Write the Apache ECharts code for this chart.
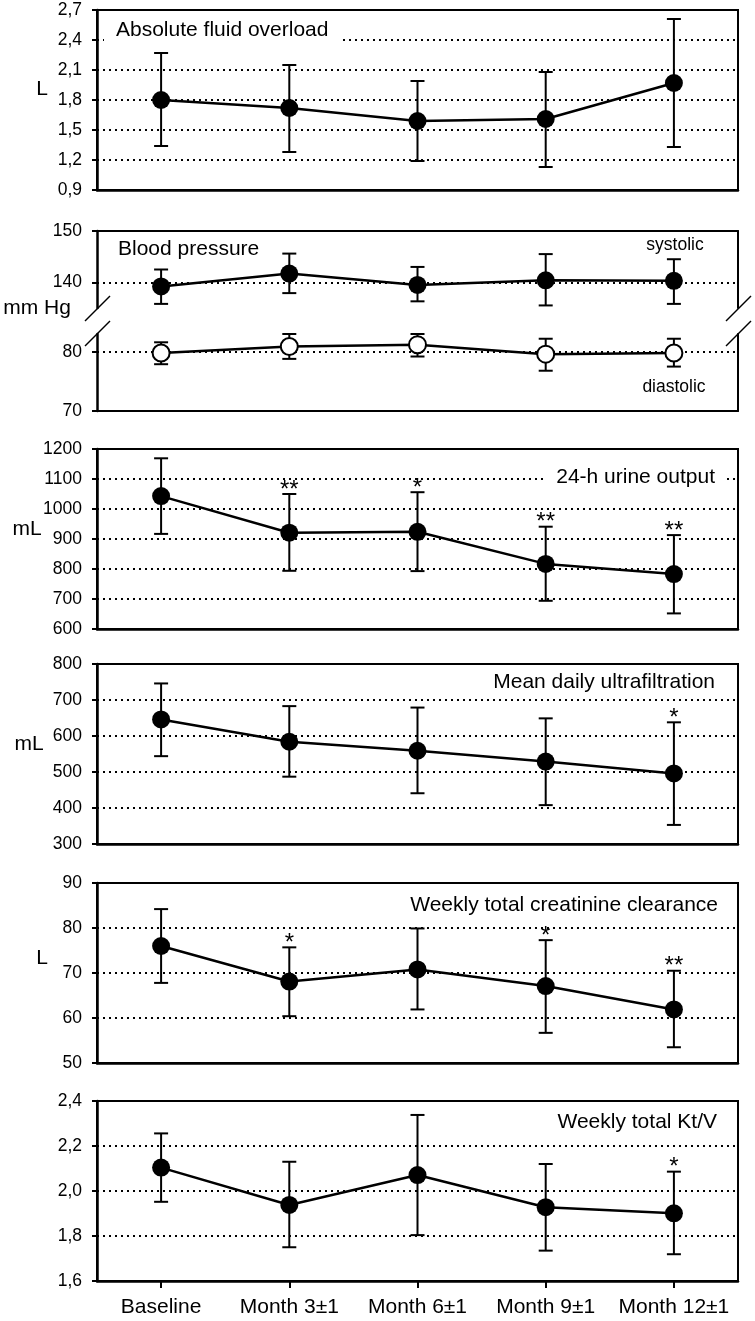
<!DOCTYPE html>
<html>
<head>
<meta charset="utf-8">
<script src="https://cdn.jsdelivr.net/npm/echarts@6/dist/echarts.min.js"></script>
<style>
  html, body { margin: 0; padding: 0; background: #fff; }
  #chart { width: 755px; height: 1321px; }
</style>
</head>
<body>
<div id="chart"></div>
<script>
// categories
var months = ['Baseline', 'Month 3\u00b11', 'Month 6\u00b11', 'Month 9\u00b11', 'Month 12\u00b11']

// absolute fluid overload (L)
var fluidMean = [1.80, 1.72, 1.59, 1.61, 1.97]
var fluidLow = [1.34, 1.28, 1.19, 1.13, 1.33]
var fluidHigh = [2.27, 2.15, 1.99, 2.08, 2.61]

// blood pressure (mm Hg)
var sysMean = [139.2, 141.7, 139.5, 140.4, 140.3]
var sysLow = [135.8, 137.9, 136.3, 135.5, 135.8]
var sysHigh = [142.5, 145.6, 143.0, 145.5, 144.5]
var diaMean = [79.8, 80.9, 81.2, 79.6, 79.8]
var diaLow = [77.9, 78.8, 79.2, 76.8, 77.5]
var diaHigh = [81.6, 83.0, 83.0, 82.2, 82.2]

// 24-h urine output (mL)
var urineMean = [1043, 921, 924, 817, 783]
var urineLow = [917, 794, 793, 694, 652]
var urineHigh = [1169, 1050, 1056, 941, 913]
var urineSig = ['', '**', '*', '**', '**']

// mean daily ultrafiltration (mL)
var ufMean = [646, 584, 559, 529, 496]
var ufLow = [544, 487, 441, 408, 353]
var ufHigh = [746, 683, 679, 649, 638]
var ufSig = ['', '', '', '', '*']

// weekly total creatinine clearance (L)
var crclMean = [76.0, 68.1, 70.8, 67.1, 61.9]
var crclLow = [67.8, 60.4, 61.9, 56.7, 53.5]
var crclHigh = [84.2, 75.7, 79.9, 77.3, 70.5]
var crclSig = ['', '*', '', '*', '**']

// weekly total Kt/V
var ktvMean = [2.104, 1.938, 2.071, 1.928, 1.901]
var ktvLow = [1.952, 1.750, 1.804, 1.735, 1.719]
var ktvHigh = [2.256, 2.130, 2.338, 2.120, 2.086]
var ktvSig = ['', '', '', '', '*']

var FONT = 'Liberation Sans, Arial, sans-serif'
var dotted = { type: [2, 4], color: '#000', width: 2 }

function comma(v) {
  return v.toFixed(1).replace('.', ',')
}
function plain(v) {
  return String(Math.round(v))
}

function errorBars(low, high) {
  return low.map(function(v, i) { return [i, v, high[i]] })
}

function makeRender(sig) {
  return function(params, api) {
    var i = api.value(0)
    var lo = api.coord([i, api.value(1)])
    var hi = api.coord([i, api.value(2)])
    var st = { stroke: '#000', lineWidth: 2 }
    var half = 7
    var children = [
      { type: 'line', shape: { x1: hi[0], y1: hi[1], x2: lo[0], y2: lo[1] }, style: st },
      { type: 'line', shape: { x1: hi[0] - half, y1: hi[1], x2: hi[0] + half, y2: hi[1] }, style: st },
      { type: 'line', shape: { x1: lo[0] - half, y1: lo[1], x2: lo[0] + half, y2: lo[1] }, style: st }
    ]
    if (sig && sig[params.dataIndex]) {
      children.push({
        type: 'text',
        x: hi[0],
        y: hi[1] - 4,
        style: { text: sig[params.dataIndex], fill: '#000', font: '24px ' + FONT, align: 'center', verticalAlign: 'middle' }
      })
    }
    return { type: 'group', children: children }
  }
}

var gridLeft = 97
var gridRight = 17
var grids = []
var xAxes = []
var yAxes = []
var series = []

// standard panels: [grid top, min, max, interval, formatter, mean, low, high, sig]
var panels = [
  [10, 0.9, 2.7, 0.3, comma, fluidMean, fluidLow, fluidHigh, null],
  [449, 600, 1200, 100, plain, urineMean, urineLow, urineHigh, urineSig],
  [664, 300, 800, 100, plain, ufMean, ufLow, ufHigh, ufSig],
  [883, 50, 90, 10, plain, crclMean, crclLow, crclHigh, crclSig],
  [1101, 1.6, 2.4, 0.2, comma, ktvMean, ktvLow, ktvHigh, ktvSig]
]

panels.forEach(function(p, k) {
  var gi = grids.length
  var last = k === panels.length - 1
  grids.push({
    left: gridLeft, right: gridRight, top: p[0], height: 180,
    show: true, borderColor: '#000', borderWidth: 2, backgroundColor: 'transparent'
  })
  xAxes.push({
    type: 'category', gridIndex: gi, data: months, boundaryGap: true,
    axisLine: { show: true, lineStyle: { color: '#000', width: 2.5 } },
    axisTick: { show: last, alignWithLabel: true, interval: 0, length: 7, lineStyle: { color: '#000', width: 2 } },
    axisLabel: { show: last, interval: 0, color: '#000', fontSize: 21, fontFamily: FONT, margin: 16 },
    splitLine: { show: false }
  })
  yAxes.push({
    type: 'value', gridIndex: gi, min: p[1], max: p[2], interval: p[3],
    axisLine: { show: true, lineStyle: { color: '#000', width: 2.5 } },
    axisTick: { show: true, length: 5, lineStyle: { color: '#000', width: 2 } },
    axisLabel: { color: '#000', fontSize: 17.5, fontFamily: FONT, margin: 15, formatter: p[4] },
    splitLine: { show: true, lineStyle: dotted }
  })
  series.push({
    type: 'custom', xAxisIndex: gi, yAxisIndex: yAxes.length - 1, z: 1, clip: false,
    renderItem: makeRender(p[8]), data: errorBars(p[6], p[7]), silent: true
  })
  series.push({
    type: 'line', xAxisIndex: gi, yAxisIndex: yAxes.length - 1, z: 3, data: p[5],
    symbol: 'circle', symbolSize: 18, itemStyle: { color: '#000' },
    lineStyle: { color: '#000', width: 2.5 }, silent: true
  })
})

// blood pressure panel: broken axis made from two grids
function bpGrid(top, height, min, max, ticks, xPos, mean, low, high, open, lineAt) {
  var gi = grids.length
  grids.push({ left: gridLeft, right: gridRight, top: top, height: height, show: false })
  xAxes.push({
    type: 'category', gridIndex: gi, data: months, boundaryGap: true, position: xPos,
    axisLine: { show: true, lineStyle: { color: '#000', width: 2 } },
    axisTick: { show: false }, axisLabel: { show: false }, splitLine: { show: false }
  })
  var yi = yAxes.length
  yAxes.push({
    type: 'value', gridIndex: gi, min: min, max: max, position: 'left',
    axisLine: { show: true, onZero: false, lineStyle: { color: '#000', width: 2.5 } },
    axisTick: { show: true, length: 5, customValues: ticks, lineStyle: { color: '#000', width: 2 } },
    axisLabel: { color: '#000', fontSize: 17.5, fontFamily: FONT, margin: 15, customValues: ticks },
    splitLine: { show: false }
  })
  yAxes.push({
    type: 'value', gridIndex: gi, min: min, max: max, position: 'right',
    axisLine: { show: true, onZero: false, lineStyle: { color: '#000', width: 2 } },
    axisTick: { show: false }, axisLabel: { show: false }, splitLine: { show: false }
  })
  series.push({
    type: 'custom', xAxisIndex: gi, yAxisIndex: yi, z: 1, clip: false,
    renderItem: makeRender(null), data: errorBars(low, high), silent: true,
    markLine: {
      z: 0, symbol: 'none', silent: true, label: { show: false }, lineStyle: dotted,
      animation: false, data: [{ yAxis: lineAt }]
    }
  })
  series.push({
    type: 'line', xAxisIndex: gi, yAxisIndex: yi, z: 3, data: mean,
    symbol: 'circle', symbolSize: open ? 17 : 18,
    itemStyle: open ? { color: '#fff', borderColor: '#000', borderWidth: 2 } : { color: '#000' },
    lineStyle: { color: '#000', width: 2.5 }, silent: true
  })
}
bpGrid(231, 77, 135, 150, [140, 150], 'top', sysMean, sysLow, sysHigh, false, 140)
bpGrid(334, 77, 70, 83, [70, 80], 'bottom', diaMean, diaLow, diaHigh, true, 80)

function txt(text, x, y, size, align, bg) {
  var el = {
    type: 'text', x: x, y: y, z: 50,
    style: { text: text, fill: '#000', font: size + 'px ' + FONT, align: align, verticalAlign: 'middle' }
  }
  if (bg) {
    el.style.backgroundColor = '#fff'
    el.style.padding = [3, 12]
  }
  return el
}

function brk(x, y) {
  var st = { stroke: '#000', lineWidth: 1.5 }
  return [
    { type: 'line', z: 50, shape: { x1: x - 12, y1: y + 12, x2: x + 13, y2: y - 13 }, style: st },
    { type: 'line', z: 50, shape: { x1: x - 12, y1: y + 37, x2: x + 13, y2: y + 12 }, style: st }
  ]
}

var graphics = [
  txt('Absolute fluid overload', 104, 30, 21, 'left', true),
  txt('Blood pressure', 118, 249, 21, 'left', false),
  txt('systolic', 675, 245, 17.5, 'center', false),
  txt('diastolic', 674, 387, 17.5, 'center', false),
  txt('24-h urine output', 727, 477, 21, 'right', true),
  txt('Mean daily ultrafiltration', 715, 682, 21, 'right', false),
  txt('Weekly total creatinine clearance', 718, 905, 21, 'right', false),
  txt('Weekly total Kt/V', 717, 1122, 21, 'right', false),
  txt('L', 42, 89, 21, 'center', false),
  txt('mm Hg', 37, 308, 21, 'center', false),
  txt('mL', 27, 529, 21, 'center', false),
  txt('mL', 29, 744, 21, 'center', false),
  txt('L', 42, 958, 21, 'center', false)
].concat(brk(97, 309), brk(738, 309))

var chart = echarts.init(document.getElementById('chart'), null, { renderer: 'canvas' })
chart.setOption({
  animation: false,
  backgroundColor: '#fff',
  textStyle: { fontFamily: FONT },
  grid: grids,
  xAxis: xAxes,
  yAxis: yAxes,
  series: series,
  graphic: { elements: graphics }
})
</script>
</body>
</html>
